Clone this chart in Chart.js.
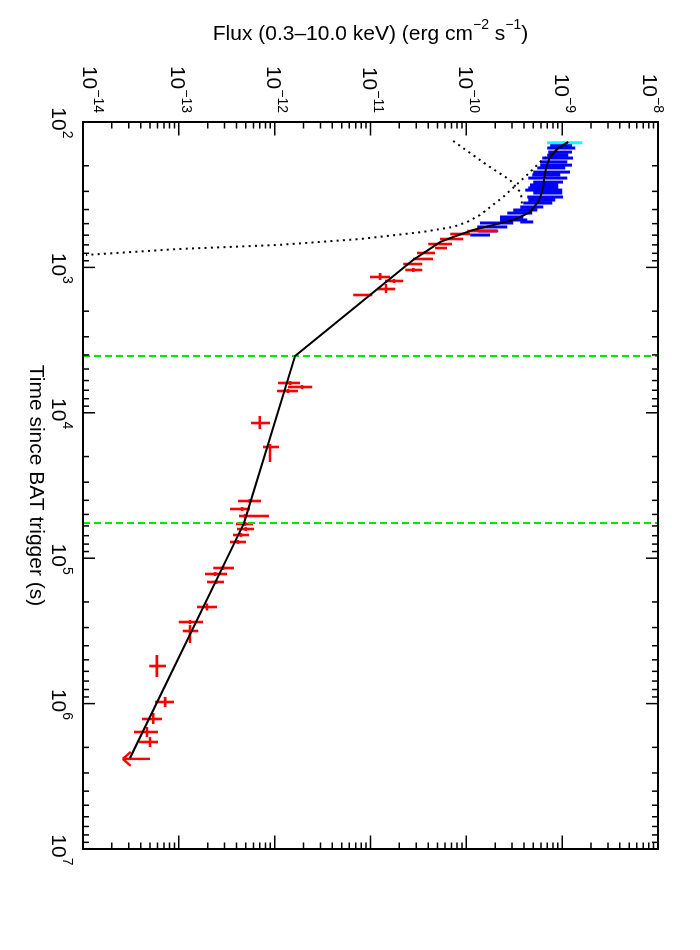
<!DOCTYPE html>
<html><head><meta charset="utf-8">
<script src="https://cdn.jsdelivr.net/npm/chart.js@4.4.0/dist/chart.umd.min.js"></script>
<style>
html,body{margin:0;padding:0;background:#fff;overflow:hidden;width:700px;height:950px}
/* the plot is drawn landscape and turned a quarter turn, like the printed page */
#wrap{position:absolute;left:0;top:0;width:950px;height:700px;transform-origin:0 0;transform:translate(700px,0) rotate(90deg)}
</style></head><body>
<div id="wrap"><canvas id="lc" width="950" height="700"></canvas></div>
<script>
/* ===== Data ===== */
const TIME_EXP = [2,3,4,5,6,7];
const FLUX_EXP = [-14,-13,-12,-11,-10,-9,-8];
const TIME_MIN = 1e2, TIME_MAX = 1e7, FLUX_MIN = 1e-14, FLUX_MAX = 1e-8;

// WT mode (blue)
const blueT   = [144,151,161,169,177,188,198,207,221,231,243,259,271,284,294,308,328,344,361,384,403,423,450,472,487,495,527,562,599];
const blueF   = [9.76e-10,9.76e-10,9.53e-10,8.97e-10,8.97e-10,8.15e-10,8.66e-10,7.67e-10,7.76e-10,6.81e-10,7.05e-10,7.14e-10,6.49e-10,6.33e-10,6.41e-10,7.05e-10,6.65e-10,6.11e-10,5.55e-10,4.80e-10,4.11e-10,3.61e-10,2.97e-10,3.12e-10,4.26e-10,2.07e-10,1.86e-10,1.67e-10,1.39e-10];
const blueFLo = [7.50e-10,6.97e-10,7.14e-10,6.97e-10,6.18e-10,5.89e-10,5.89e-10,5.48e-10,4.98e-10,4.86e-10,4.42e-10,4.98e-10,4.63e-10,4.42e-10,4.11e-10,4.98e-10,4.31e-10,4.42e-10,3.92e-10,3.65e-10,3.08e-10,2.67e-10,2.25e-10,2.25e-10,3.65e-10,1.39e-10,1.30e-10,1.33e-10,1.10e-10];
const blueFHi = [1.27e-9,1.37e-9,1.27e-9,1.16e-9,1.30e-9,1.13e-9,1.27e-9,1.08e-9,1.21e-9,9.53e-10,1.13e-9,1.02e-9,9.08e-10,9.08e-10,1.00e-9,1.00e-9,1.02e-9,8.45e-10,7.86e-10,6.33e-10,5.48e-10,4.86e-10,3.92e-10,4.31e-10,4.98e-10,3.08e-10,2.67e-10,2.10e-10,1.77e-10];

// first bin (cyan)
const cyanT = [139], cyanF = [1.06e-9], cyanFLo = [6.97e-10], cyanFHi = [1.62e-9];

// PC mode (red)
const redT   = [562,589,638,691,736,796,875,948,1042,1164,1240,1408,1548,6237,6646,7083,11755,17190,40430,45870,51270,58180,62990,69250,77360,116800,128450,145800,216600,274800,316800,551300,975000,1.276e6,1.568e6,1.837e6];
const redTLo = [557,584,632,684,728,788,866,938,1010,1093,1200,1301,1520,6040,6440,6860,10520,16390,39200,44500,49700,56400,61100,67100,75000,113200,124500,141300,205000,266000,288000,463400,901000,1.161e6,1.449e6,1.697e6];
const redTHi = [567,594,644,698,744,804,884,958,1075,1221,1280,1501,1575,6440,6860,7310,12930,21800,41700,47300,52900,60000,65000,71400,79800,120500,132500,150400,229000,284000,383000,656000,1.055e6,1.381e6,1.697e6,1.989e6];
const redF   = [1.46e-10,8.6e-11,6.9e-11,5.3e-11,5.5e-11,3.8e-11,3.5e-11,2.7e-11,2.8e-11,1.26e-11,1.76e-11,1.45e-11,8.4e-12,1.45e-12,1.93e-12,1.38e-12,7.0e-13,8.95e-13,5.5e-13,4.57e-13,4.9e-13,4.9e-13,5.0e-13,4.46e-13,4.15e-13,2.9e-13,2.39e-13,2.45e-13,1.97e-13,1.31e-13,1.31e-13,5.9e-14,7.2e-14,5.4e-14,4.66e-14,5.0e-14];
const redFLo = [1.02e-10,6.8e-11,5.3e-11,4.0e-11,4.7e-11,3.06e-11,2.78e-11,2.19e-11,2.3e-11,9.9e-12,1.42e-11,1.17e-11,6.6e-12,1.085e-12,1.38e-12,1.06e-12,5.67e-13,7.57e-13,4.15e-13,3.42e-13,4.25e-13,3.95e-13,4.05e-13,3.68e-13,3.42e-13,2.28e-13,1.88e-13,1.97e-13,1.55e-13,1.0e-13,1.1e-13,4.9e-14,5.64e-14,4.13e-14,3.41e-14,3.84e-14];
const redFHi = [2.15e-10,1.1e-10,9.3e-11,7.1e-11,6.3e-11,4.72e-11,4.5e-11,3.46e-11,3.46e-11,1.6e-11,2.19e-11,1.81e-11,1.04e-11,1.84e-12,2.46e-12,1.75e-12,8.95e-13,1.11e-12,7.2e-13,5.54e-13,8.74e-13,5.95e-13,6.1e-13,5.41e-13,5.03e-13,3.77e-13,3.19e-13,2.96e-13,2.5e-13,1.79e-13,1.59e-13,7.35e-14,8.9e-14,6.68e-14,6.07e-14,6.07e-14];

// last PC bin: upper limit
const ulT = [2.40e6], ulF = [5.0e-14], ulFArrow = [2.6e-14];

// fitted model (solid) and its two components (dotted)
const modelT = [137,151,174,204,243,284,303,355,416,450,472,511,553,618,669,784,889,4066,57270,2.367e6];
const modelF = [1.156e-9,9.08e-10,7.50e-10,6.81e-10,6.49e-10,6.33e-10,6.18e-10,5.61e-10,4.63e-10,3.65e-10,3.08e-10,1.905e-10,1.178e-10,7.28e-11,5.33e-11,3.72e-11,2.78e-11,1.633e-12,4.79e-13,3.095e-14];
const decayT = [139,161,188,221,328,436,487,527,571,638,701,747,821];
const decayF = [1.128e-9,8.06e-10,5.89e-10,4.63e-10,2.42e-10,1.39e-10,1.02e-10,7.28e-11,3.46e-11,7.79e-12,1.085e-12,1.005e-13,1.075e-14];
const riseT = [135,151,198,251,303,344,384];
const riseF = [7.28e-11,9.26e-11,1.65e-10,2.86e-10,3.65e-10,3.82e-10,3.73e-10];

// break times (green dashed)
const breakT = [4066,57270];

/* ===== Helpers ===== */
const FONT = '"Liberation Sans", Arial, Helvetica, sans-serif';
const pts = (xs,ys)=>xs.map((x,i)=>({x, y:ys[i]}));
// text pieces: [text, isSuperscript]
function partsWidth(ctx, parts, size){
  let w=0; parts.forEach(([t,sup])=>{ ctx.font=(sup?Math.round(size*0.66):size)+'px '+FONT; w+=ctx.measureText(t).width; }); return w;
}
function drawParts(ctx, parts, x, y, size){
  let cx=x;
  parts.forEach(([t,sup])=>{ ctx.font=(sup?Math.round(size*0.66):size)+'px '+FONT; ctx.fillText(t,cx,sup?y-size*0.52:y); cx+=ctx.measureText(t).width; });
}

const SERIES = [
  {t:blueT, f:blueF, fLo:blueFLo, fHi:blueFHi, color:'#0000ff', width:3},
  {t:cyanT, f:cyanF, fLo:cyanFLo, fHi:cyanFHi, color:'#00ffff', width:3},
  {t:redT, tLo:redTLo, tHi:redTHi, f:redF, fLo:redFLo, fHi:redFHi, color:'#ff0000', width:2.6}
];

/* ===== Error bars ===== */
const errorBars = {
  id:'errorBars',
  beforeDatasetsDraw(chart){
    const {ctx, chartArea:a, scales:{x, y}} = chart;
    ctx.save();
    ctx.beginPath(); ctx.rect(a.left,a.top,a.right-a.left,a.bottom-a.top); ctx.clip();
    const seg=(x1,y1,x2,y2)=>{ ctx.moveTo(x1,y1); ctx.lineTo(x2,y2); };
    SERIES.forEach(s=>{
      ctx.strokeStyle=s.color; ctx.lineWidth=s.width; ctx.beginPath();
      s.t.forEach((t,i)=>{
        const px=x.getPixelForValue(t), py=y.getPixelForValue(s.f[i]);
        seg(px, y.getPixelForValue(s.fLo[i]), px, y.getPixelForValue(s.fHi[i]));
        if(s.tLo) seg(x.getPixelForValue(s.tLo[i]), py, x.getPixelForValue(s.tHi[i]), py);
      });
      ctx.stroke();
    });
    ctx.strokeStyle='#ff0000'; ctx.lineWidth=2.4; ctx.beginPath();
    ulT.forEach((t,i)=>{
      const px=x.getPixelForValue(t), y0=y.getPixelForValue(ulF[i]), y1=y.getPixelForValue(ulFArrow[i]);
      seg(px,y0,px,y1); seg(px,y1,px-7,y1-8); seg(px,y1,px+7,y1-8);
    });
    ctx.stroke();
    ctx.restore();
  }
};

/* ===== Frame, ticks, labels ===== */
const frame = {
  id:'frame',
  afterDraw(chart){
    const {ctx, chartArea:a, scales:{x, y}} = chart;
    ctx.save();
    ctx.strokeStyle='#000'; ctx.fillStyle='#000';
    ctx.lineWidth=2; ctx.strokeRect(a.left,a.top,a.right-a.left,a.bottom-a.top);
    ctx.lineWidth=1.5; ctx.beginPath();
    TIME_EXP.forEach(e=>{ for(let m=1;m<=9;m++){
      const v=m*Math.pow(10,e); if(v>TIME_MAX*1.0001) break;
      const px=x.getPixelForValue(v), len=m===1?12:6;
      ctx.moveTo(px,a.bottom); ctx.lineTo(px,a.bottom-len);
      ctx.moveTo(px,a.top); ctx.lineTo(px,a.top+len);
    }});
    FLUX_EXP.forEach(e=>{ for(let m=1;m<=9;m++){
      const v=m*Math.pow(10,e); if(v>FLUX_MAX*1.0001) break;
      const py=y.getPixelForValue(v), len=m===1?13.5:6.5;
      ctx.moveTo(a.left,py); ctx.lineTo(a.left+len,py);
      ctx.moveTo(a.right,py); ctx.lineTo(a.right-len,py);
    }});
    ctx.stroke();

    const S=21; ctx.textBaseline='alphabetic'; ctx.textAlign='left';
    // time tick labels
    TIME_EXP.forEach(e=>{
      const px=x.getPixelForValue(Math.pow(10,e));
      ctx.font=S+'px '+FONT; const w10=ctx.measureText('10').width;
      drawParts(ctx,[['10',false],[String(e),true]],px-w10/2-3,648,S);
    });
    // flux tick labels
    FLUX_EXP.forEach(e=>{
      let cy=y.getPixelForValue(Math.pow(10,e));
      cy=Math.min(a.bottom-7.5,Math.max(a.top+7.5,cy));
      const parts=[['10',false],['\u2212'+(-e),true]];
      const w=partsWidth(ctx,parts,S);
      drawParts(ctx,parts,113-w,cy+7.5,S);
    });
    // axis titles
    const tt=[['Time since BAT trigger (s)',false]];
    drawParts(ctx,tt,(a.left+a.right)/2-partsWidth(ctx,tt,S)/2,670,S);
    const ft=[['Flux (0.3\u201310.0 keV) (erg cm',false],['\u22122',true],[' s',false],['\u22121',true],[')',false]];
    ctx.save(); ctx.translate(40,(a.top+a.bottom)/2); ctx.rotate(-Math.PI/2);
    drawParts(ctx,ft,-partsWidth(ctx,ft,S)/2,0,S);
    ctx.restore();
    ctx.restore();
  }
};

/* ===== Chart ===== */
const lineDs = (xs,ys,extra)=>Object.assign({data:pts(xs,ys), showLine:true, borderColor:'#000', borderWidth:2, pointRadius:0, tension:0}, extra);
new Chart(document.getElementById('lc'), {
  type:'scatter',
  data:{datasets:[
    lineDs(modelT,modelF,{order:1}),
    lineDs(decayT,decayF,{borderDash:[2,4.3], order:2}),
    lineDs(riseT,riseF,{borderDash:[2,4.3], order:2}),
    ...breakT.map(b=>lineDs([b,b],[FLUX_MIN,FLUX_MAX],{borderColor:'#00e600', borderDash:[7,4], order:3}))
  ]},
  options:{
    responsive:false, animation:false, devicePixelRatio:1,
    layout:{padding:{top:42,right:101,left:0,bottom:0}},
    plugins:{legend:{display:false}, tooltip:{enabled:false}},
    scales:{
      x:{type:'logarithmic', min:TIME_MIN, max:TIME_MAX, grid:{display:false}, border:{display:false}, ticks:{display:false}, afterFit:s=>{ s.height=83; }},
      y:{type:'logarithmic', min:FLUX_MIN, max:FLUX_MAX, grid:{display:false}, border:{display:false}, ticks:{display:false}, afterFit:s=>{ s.width=122; }}
    }
  },
  plugins:[errorBars, frame]
});
</script></body></html>
